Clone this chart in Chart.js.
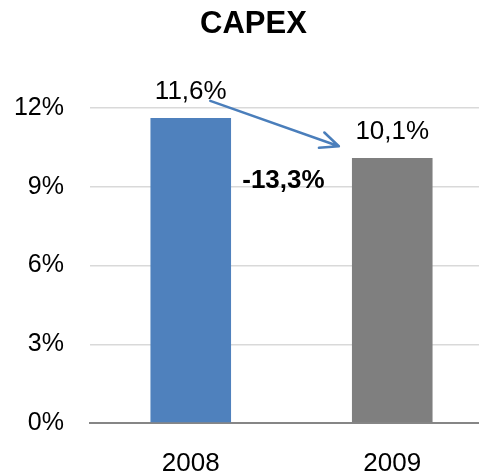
<!DOCTYPE html>
<html>
<head>
<meta charset="utf-8">
<script src="https://cdn.jsdelivr.net/npm/chart.js@4"></script>
<style>
  html, body { margin: 0; padding: 0; background: #fff; overflow: hidden; }
  #wrap { width: 479px; height: 476px; overflow: hidden; }
</style>
</head>
<body>
<div id="wrap"><canvas id="myChart" width="512" height="476"></canvas></div>
<script>
// данные графика
let years = ['2008', '2009'];
let capex = [11.63, 10.1];
let capexLabels = ['11,6%', '10,1%'];
let barColors = ['#4F81BD', '#7F7F7F'];
let yTicks = [0, 3, 6, 9, 12];

// подпись изменения и стрелка (в координатах данных: индекс категории, значение)
let changeText = '-13,3%';
let changeAt = [0.46, 9.25];
let arrowFrom = [0.097, 12.28];
let arrowTo = [0.735, 10.55];

const fontName = '"Liberation Sans", Arial, sans-serif';

// рисуем подписи над столбцами и стрелку
const labelsPlugin = {
  id: 'labelsPlugin',
  afterDatasetsDraw(chart) {
    let ctx = chart.ctx;
    let x = chart.scales.x, y = chart.scales.y;
    let bars = chart.getDatasetMeta(0).data;
    ctx.save();
    ctx.fillStyle = '#000';
    ctx.textAlign = 'center';
    ctx.textBaseline = 'middle';
    ctx.font = '26px ' + fontName;
    for (let i = 0; i < bars.length; i++) {
      ctx.fillText(capexLabels[i], bars[i].x, bars[i].y - 26);
    }
    ctx.font = 'bold 26px ' + fontName;
    ctx.fillText(changeText, x.getPixelForValue(changeAt[0]), y.getPixelForValue(changeAt[1]));

    // стрелка
    let x1 = x.getPixelForValue(arrowFrom[0]), y1 = y.getPixelForValue(arrowFrom[1]);
    let x2 = x.getPixelForValue(arrowTo[0]), y2 = y.getPixelForValue(arrowTo[1]);
    let ang = Math.atan2(y2 - y1, x2 - x1);
    ctx.strokeStyle = '#4A7EBB';
    ctx.lineWidth = 2.5;
    ctx.lineCap = 'round';
    ctx.lineJoin = 'round';
    ctx.beginPath();
    ctx.moveTo(x1, y1);
    ctx.lineTo(x2, y2);
    ctx.moveTo(x2 - 20 * Math.cos(ang - 0.42), y2 - 20 * Math.sin(ang - 0.42));
    ctx.lineTo(x2, y2);
    ctx.lineTo(x2 - 20 * Math.cos(ang + 0.42), y2 - 20 * Math.sin(ang + 0.42));
    ctx.stroke();
    ctx.restore();
  }
};

let data = {
  labels: years,
  datasets: [{
    data: capex,
    backgroundColor: barColors,
    barPercentage: 0.4,
    categoryPercentage: 1
  }]
};

let config = {
  type: 'bar',
  data: data,
  plugins: [labelsPlugin],
  options: {
    responsive: false,
    animation: false,
    devicePixelRatio: 1,
    layout: { padding: { left: 14, right: 19, top: 0, bottom: 0 } },
    plugins: {
      legend: { display: false },
      tooltip: { enabled: false },
      title: {
        display: true,
        text: 'CAPEX',
        color: '#000',
        font: { family: fontName, size: 31, weight: 'bold', lineHeight: 1.2 },
        padding: { top: 6, bottom: 65 }
      }
    },
    scales: {
      x: {
        afterFit: (s) => { s.height = 53; },
        grid: { display: false, drawTicks: false },
        border: { color: '#868686', width: 2 },
        ticks: {
          color: '#000',
          padding: 28,
          font: { family: fontName, size: 26, lineHeight: 1 }
        }
      },
      y: {
        min: 0,
        max: 12,
        afterFit: (s) => { s.width = 76; },
        afterBuildTicks: (scale) => { scale.ticks = yTicks.map(v => ({ value: v })); },
        border: { display: false },
        grid: {
          drawTicks: false,
          color: (c) => c.tick && c.tick.value === 0 ? 'rgba(0,0,0,0)' : '#D9D9D9',
          lineWidth: 1.5
        },
        ticks: {
          color: '#000',
          padding: 26,
          font: { family: fontName, size: 25 },
          callback: (v) => v + '%'
        }
      }
    }
  }
};

let myChart = new Chart(document.getElementById('myChart'), config);
</script>
</body>
</html>
